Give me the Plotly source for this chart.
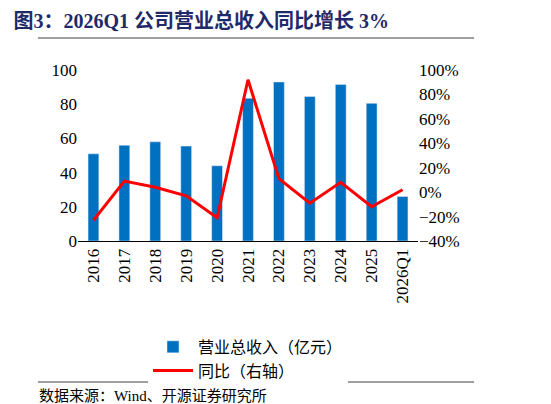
import plotly.graph_objects as go

years = ["2016", "2017", "2018", "2019", "2020", "2021", "2022", "2023", "2024", "2025", "2026Q1"]
revenue = [51, 56, 58, 55.5, 44, 83.5, 93, 84.5, 91.5, 80.5, 26]
yoy = [-23, 9, 4, -3, -21, 92, 11, -9, 8, -12, 2]

font = "Liberation Serif, Noto Sans CJK SC"

fig = go.Figure()
fig.add_trace(go.Bar(x=years, y=revenue, name="营业总收入（亿元）",
                     marker_color="#0070C0", width=0.35))
fig.add_trace(go.Scatter(x=years, y=yoy, name="同比（右轴）", yaxis="y2",
                         mode="lines", line=dict(color="#FF0000", width=3)))

fig.update_layout(
    width=551, height=404,
    margin=dict(l=70, r=141, t=62, b=171, autoexpand=False),
    plot_bgcolor="white", paper_bgcolor="white",
    font=dict(family=font, size=17, color="black"),
    showlegend=True,
    legend=dict(orientation="h", x=0.5, xanchor="center", y=-0.52, yanchor="top",
                font=dict(size=16), itemwidth=40, entrywidthmode="pixels"),
    xaxis=dict(tickangle=-90, showline=True, linecolor="black", ticks="",
               tickfont=dict(size=17), automargin=False),
    yaxis=dict(range=[0, 100], dtick=20, showgrid=False, showline=False,
               ticks="", tickfont=dict(size=17), automargin=False),
    yaxis2=dict(range=[-40, 100], dtick=20, overlaying="y", side="right",
                showgrid=False, ticksuffix="%", ticks="", tickfont=dict(size=17),
                automargin=False),
    title=dict(text="<b>图3：2026Q1 公司营业总收入同比增长 3%</b>", x=0.01, xanchor="left",
               y=0.985, yanchor="top", font=dict(size=20, color="#1F2A6B")),
    shapes=[
        dict(type="line", xref="paper", yref="paper", x0=-0.118, x1=1.165,
             y0=1.187, y1=1.187, line=dict(color="#808080", width=1.5)),
        dict(type="line", xref="paper", yref="paper", x0=-0.118, x1=1.165,
             y0=-0.825, y1=-0.825, line=dict(color="#808080", width=1.5)),
    ],
    annotations=[
        dict(text="数据来源：Wind、开源证券研究所", xref="paper", yref="paper",
             x=-0.12, y=-0.85, xanchor="left", yanchor="top", showarrow=False,
             font=dict(size=15)),
    ],
)

fig.write_html("out.html")
